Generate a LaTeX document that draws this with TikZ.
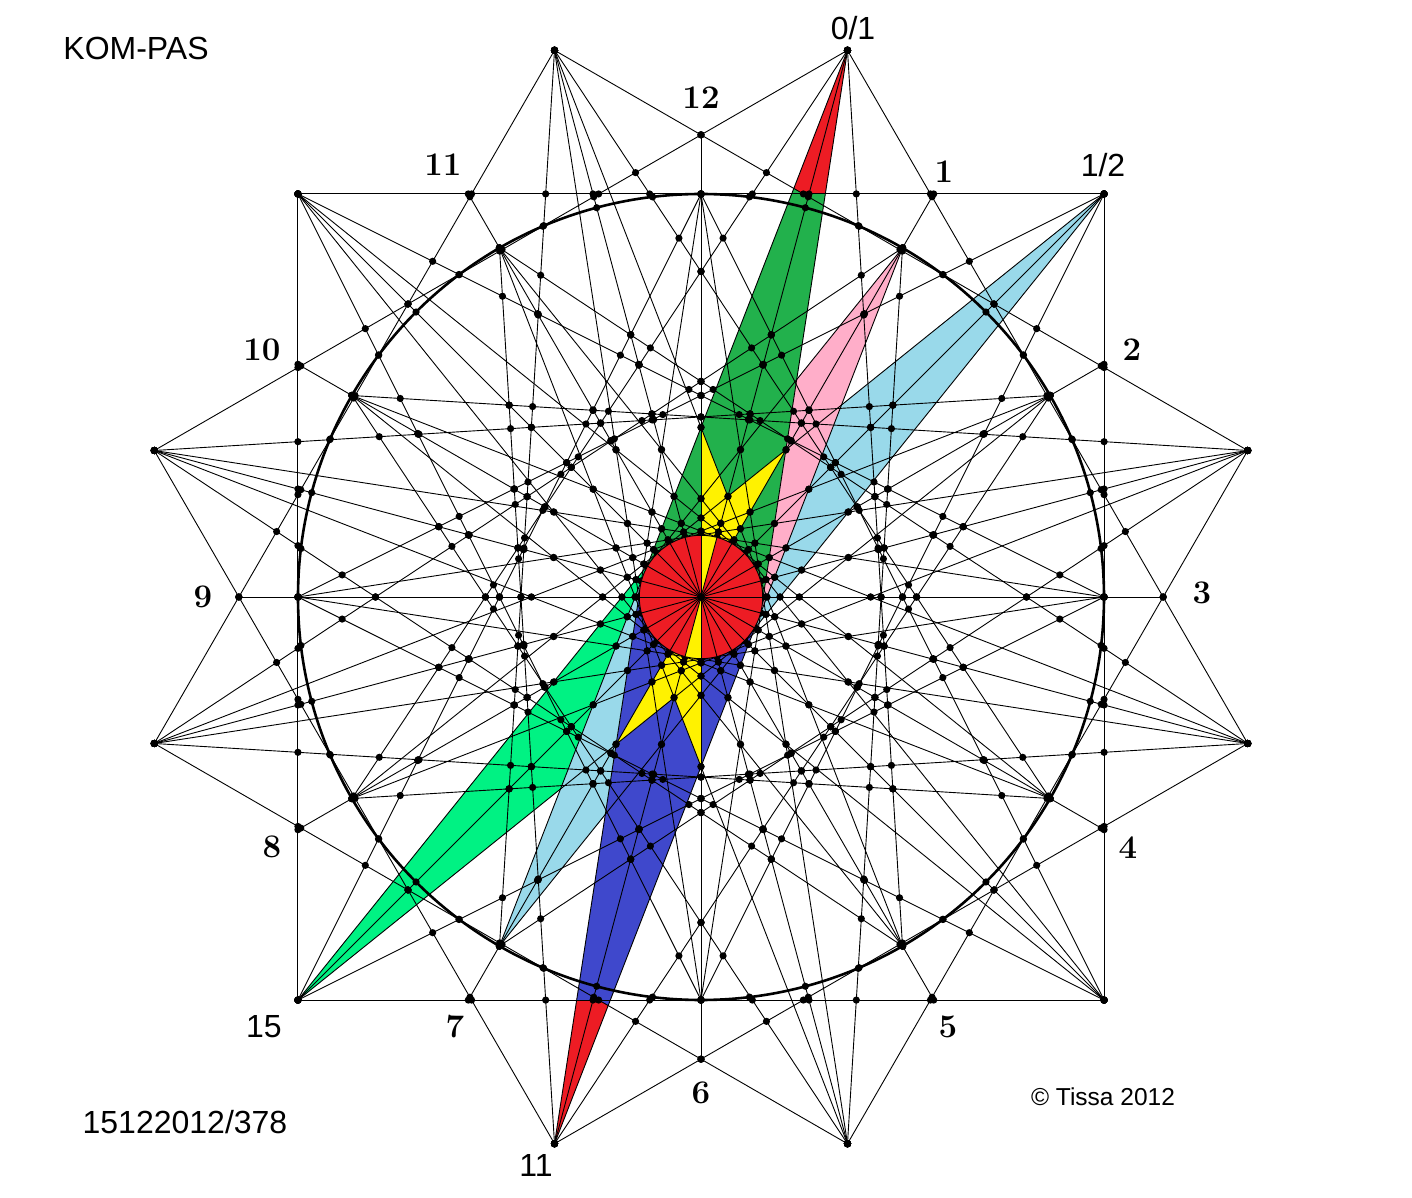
\documentclass[tikz,border=0pt]{standalone}
\usepackage{fontspec}
\newfontfamily\arialf{Liberation Sans}
\usetikzlibrary{calc}
\definecolor{pred}{HTML}{ED1C24}
\definecolor{pgreen}{HTML}{22B14C}
\definecolor{pyellow}{HTML}{FFF200}
\definecolor{ppink}{HTML}{FFAEC9}
\definecolor{plblue}{HTML}{99D9EA}
\definecolor{pblue}{HTML}{3F48CC}
\definecolor{pmint}{HTML}{00F283}
\def\seglist{%
5.70/-45/5.70/45,5.66/-15/5.66/75,5.66/15/5.66/105,5.70/45/5.70/135,5.66/75/5.66/165,5.66/105/5.66/195,5.70/135/5.70/225,5.66/165/5.66/255,5.66/195/5.66/285,5.70/225/5.70/315,5.66/255/5.66/345,5.66/285/5.66/375,%
5.66/15/5.66/195,5.70/45/5.70/225,5.66/75/5.66/255,5.66/105/5.66/285,5.70/135/5.70/315,5.66/165/5.66/345,%
4.653/0/4.653/180,4.653/30/4.653/210,4.653/60/4.653/240,4.653/90/4.653/270,4.653/120/4.653/300,4.653/150/4.653/330,%
5.66/15/4.03/150,5.66/15/4.03/240,5.70/45/4.03/180,5.70/45/4.03/270,5.66/75/4.03/210,5.66/75/4.03/300,5.66/105/4.03/240,5.66/105/4.03/330,5.70/135/4.03/270,5.70/135/4.03/360,5.66/165/4.03/300,5.66/165/4.03/390,5.66/195/4.03/330,5.66/195/4.03/420,5.70/225/4.03/360,5.70/225/4.03/450,5.66/255/4.03/390,5.66/255/4.03/480,5.66/285/4.03/420,5.66/285/4.03/510,5.70/315/4.03/450,5.70/315/4.03/540,5.66/345/4.03/480,5.66/345/4.03/570,%
5.66/15/4.03/180,5.66/15/4.03/210,5.70/45/4.03/210,5.70/45/4.03/240,5.66/75/4.03/240,5.66/75/4.03/270,5.66/105/4.03/270,5.66/105/4.03/300,5.70/135/4.03/300,5.70/135/4.03/330,5.66/165/4.03/330,5.66/165/4.03/360,5.66/195/4.03/360,5.66/195/4.03/390,5.70/225/4.03/390,5.70/225/4.03/420,5.66/255/4.03/420,5.66/255/4.03/450,5.66/285/4.03/450,5.66/285/4.03/480,5.70/315/4.03/480,5.70/315/4.03/510,5.66/345/4.03/510,5.66/345/4.03/540}
\newcommand\tryint[2]{%
  \edef\Pxa{\csname SXA#1\endcsname}\edef\Pya{\csname SYA#1\endcsname}%
  \edef\Pxb{\csname SXB#1\endcsname}\edef\Pyb{\csname SYB#1\endcsname}%
  \edef\Qxa{\csname SXA#2\endcsname}\edef\Qya{\csname SYA#2\endcsname}%
  \edef\Qxb{\csname SXB#2\endcsname}\edef\Qyb{\csname SYB#2\endcsname}%
  \pgfmathsetmacro\Vrx{\Pxb-(\Pxa)}%
  \pgfmathsetmacro\Vry{\Pyb-(\Pya)}%
  \pgfmathsetmacro\Vsx{\Qxb-(\Qxa)}%
  \pgfmathsetmacro\Vsy{\Qyb-(\Qya)}%
  \pgfmathsetmacro\Vden{(\Vrx)*(\Vsy)-(\Vry)*(\Vsx)}%
  \pgfmathtruncatemacro\Vok{abs(\Vden)>0.02}%
  \ifnum\Vok=1
    \pgfmathsetmacro\Vdx{\Qxa-(\Pxa)}%
    \pgfmathsetmacro\Vdy{\Qya-(\Pya)}%
    \pgfmathsetmacro\Vt{((\Vdx)*(\Vsy)-(\Vdy)*(\Vsx))/(\Vden)}%
    \pgfmathsetmacro\Vu{((\Vdx)*(\Vry)-(\Vdy)*(\Vrx))/(\Vden)}%
    \pgfmathtruncatemacro\Vok{(\Vt>-0.003)&&(\Vt<1.003)&&(\Vu>-0.003)&&(\Vu<1.003)}%
    \ifnum\Vok=1
      \fill ({\Pxa+(\Vt)*(\Vrx)},{\Pya+(\Vt)*(\Vry)}) circle (3.6pt);%
    \fi
  \fi
}
\begin{document}
\begin{tikzpicture}[x=100pt,y=100pt,line width=0.9pt]
\useasboundingbox (-7.01,-6.01) rectangle (7.11,5.97);
\fill[white] (-7.01,-6.01) rectangle (7.11,5.97);
\def\RO{5.66}\def\RK{5.70}\def\RI{4.653}\def\RC{4.03}
\foreach \j in {0,...,11}{
  \pgfmathsetmacro\ang{15+30*\j}
  \pgfmathsetmacro\rr{(mod(\j,3)==1)*\RK+(mod(\j,3)!=1)*\RO}
  \coordinate (O\j) at ({\rr*sin(\ang)},{\rr*cos(\ang)});
  \coordinate (C\j) at ({\RC*sin(30*\j)},{\RC*cos(30*\j)});
  \coordinate (I\j) at ({\RI*sin(30*\j)},{\RI*cos(30*\j)});
}
% ---- coloured regions
\fill[pgreen] (intersection of O0--C7 and O11--O2) -- (intersection of O11--O2 and O10--O1) -- (intersection of O0--C6 and O10--O1) -- (intersection of O0--C6 and I9--I3) -- (intersection of O0--C7 and I9--I3) -- cycle;
\fill[pred] (O0) -- (intersection of O0--C7 and O11--O2) -- (intersection of O11--O2 and O10--O1) -- (intersection of O0--C6 and O10--O1) -- cycle;
\fill[pblue] (intersection of O6--C1 and O5--O8) -- (intersection of O5--O8 and O4--O7) -- (intersection of O6--C0 and O4--O7) -- (intersection of O6--C0 and I9--I3) -- (intersection of O6--C1 and I9--I3) -- cycle;
\fill[pred] (O6) -- (intersection of O6--C1 and O5--O8) -- (intersection of O5--O8 and O4--O7) -- (intersection of O6--C0 and O4--O7) -- cycle;
\fill[ppink] (C1) -- (intersection of O7--C1 and O0--C6) -- (intersection of O0--C6 and O6--C1) -- cycle;
\fill[plblue] (O1) -- (intersection of O1--C8 and O6--C1) -- (intersection of O1--C7 and O6--C1) -- cycle;
\fill[pmint] (O7) -- (intersection of O7--C2 and O0--C7) -- (intersection of O7--C1 and O0--C7) -- cycle;
\fill[plblue] (C7) -- (intersection of O1--C7 and O6--C0) -- (intersection of O6--C0 and O0--C7) -- cycle;
\fill[pyellow] (intersection of O11--C5 and I0--I6) -- (intersection of O11--C5 and O1--C8) -- (intersection of O1--C8 and O0--C6) -- (0,0) -- cycle;
\fill[pyellow] (intersection of O5--C11 and I0--I6) -- (intersection of O5--C11 and O7--C2) -- (intersection of O7--C2 and O6--C0) -- (0,0) -- cycle;
% ---- lines
\foreach \ra/\aa/\rb/\ab [count=\n] in \seglist {
  \pgfmathsetmacro\xa{\ra*sin(\aa)}%
  \pgfmathsetmacro\ya{\ra*cos(\aa)}%
  \pgfmathsetmacro\xb{\rb*sin(\ab)}%
  \pgfmathsetmacro\yb{\rb*cos(\ab)}%
  \expandafter\xdef\csname SXA\n\endcsname{\xa}%
  \expandafter\xdef\csname SYA\n\endcsname{\ya}%
  \expandafter\xdef\csname SXB\n\endcsname{\xb}%
  \expandafter\xdef\csname SYB\n\endcsname{\yb}%
  \draw (\xa,\ya) -- (\xb,\yb);
}
\draw[line width=2.6pt] (0,0) circle (4.03);
% ---- dots
\foreach \i in {1,...,47}{%
  \pgfmathtruncatemacro\js{\i+1}%
  \foreach \j in {\js,...,48}{\tryint{\i}{\j}}%
}
\foreach \i in {13,...,24}{\foreach \j in {49,...,72}{\tryint{\i}{\j}}}
\foreach \a in {0,30,...,330}{\fill ({4.03*sin(\a)},{4.03*cos(\a)}) circle (3.9pt);}
\foreach \a in {15,45,...,345}{
  \fill ({4.03*sin(\a)},{4.03*cos(\a)}) circle (3.6pt);
  \fill ({4.03*sin(\a+8.1)},{4.03*cos(\a+8.1)}) circle (3.6pt);
  \fill ({4.03*sin(\a-8.1)},{4.03*cos(\a-8.1)}) circle (3.6pt);
}
% ---- central disc
\fill[pred] (0,0) circle (0.617);
\fill[pyellow] (0,0) -- (90:0.617) arc[start angle=90,end angle=75,radius=0.617] -- cycle;
\fill[pyellow] (0,0) -- (270:0.617) arc[start angle=270,end angle=255,radius=0.617] -- cycle;
\foreach \a in {0,15,...,345}{\draw (0,0) -- (\a:0.617);}
\draw (0,0) circle (0.617);
\fill (0,0) circle (4pt);
% ---- labels
\begin{scope}[every node/.style={inner sep=0pt,font=\fontsize{33}{33}\selectfont\bfseries}]
\node (n12) at (0,4.99) {12};
\node (n1) at (2.43,4.25) {1};
\node (n2) at (4.31,2.47) {2};
\node (n3) at (5.01,0.04) {3};
\node (n4) at (4.27,-2.51) {4};
\node (n5) at (2.47,-4.30) {5};
\node (n6) at (0,-4.96) {6};
\node (n7) at (-2.46,-4.30) {7};
\node (n8) at (-4.29,-2.50) {8};
\node (n9) at (-4.98,0) {9};
\node (n10) at (-4.39,2.47) {10};
\node (n11) at (-2.58,4.32) {11};
\end{scope}
\begin{scope}[every node/.style={inner sep=0pt,font=\arialf\fontsize{32}{32}\selectfont}]
\node (s01) at (1.52,5.69) {0/1};
\node (s12) at (4.02,4.32) {1/2};
\node (s15) at (-4.37,-4.30) {15};
\node (s11) at (-1.65,-5.68) {11};
\node[anchor=west] (title) at (-6.38,5.49) {KOM-PAS};
\node (code) at (-5.16,-5.25) {15122012/378};
\node[font=\arialf\fontsize{24.5}{24.5}\selectfont] (copy) at (4.02,-5.00) {\textcopyright{} Tissa 2012};
\end{scope}
\end{tikzpicture}
\end{document}
